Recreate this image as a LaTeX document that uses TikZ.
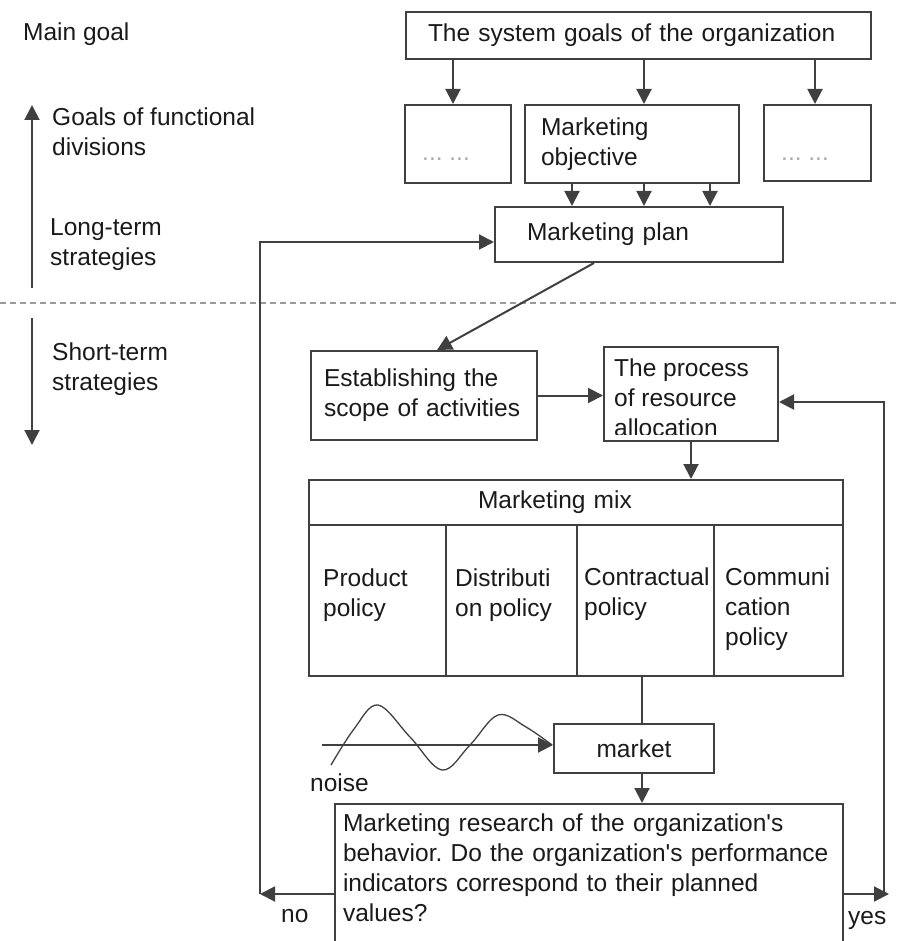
\documentclass[tikz,border=0pt]{standalone}
\usepackage{fontspec}
\setmainfont{Liberation Sans}
\usetikzlibrary{arrows.meta}

\definecolor{inkc}{HTML}{1A1A1A}
\definecolor{linec}{HTML}{404040}
\definecolor{dashc}{HTML}{9A9A9A}
\definecolor{dotc}{HTML}{AAAAAA}

\begin{document}
\frenchspacing
\begin{tikzpicture}[x=1pt, y=-1pt,
  font=\fontsize{24.5}{30}\selectfont, text=inkc,
  box/.style={draw=linec, line width=2pt, align=left, inner sep=0pt},
  arr/.style={draw=linec, line width=2pt, -{Triangle[length=15pt,width=15pt]}},
  link/.style={draw=linec, line width=2pt},
  txt/.style={inner sep=0pt, anchor=north west, align=left},
  lbl/.style={inner sep=0pt, anchor=base west},
  dotlbl/.style={lbl, text=dotc},
  wave/.style={draw=linec, line width=1.3pt}]
\useasboundingbox (0,0) rectangle (896,941);
\clip (0,0) rectangle (896,941);

% levels on the left
\node[lbl] (maingoal) at (23,41) {Main goal};
\node[txt] (goalsdiv) at (52,108) {Goals of functional\\divisions};
\node[txt] (longterm) at (50,218) {Long-term\\strategies};
\node[txt] (shortterm) at (52,343) {Short-term\\strategies};
\coordinate (upfoot) at (32,288);
\coordinate (uptip) at (32,105);
\coordinate (downtop) at (32,318);
\coordinate (downtip) at (32,445);
\draw[arr] (upfoot) -- (uptip);
\draw[arr] (downtop) -- (downtip);
\coordinate (dashl) at (0,303);
\coordinate (dashr) at (896,303);
\draw[draw=dashc, line width=1.8pt, dash pattern=on 6pt off 4pt] (dashl) -- (dashr);

% goals
\node[box, minimum width=465pt, minimum height=47pt, text width=421pt] (sysgoal) at (638.5,35.5) {The system goals of the organization};
\node[box, minimum width=106pt, minimum height=78pt] (divleft) at (458,144) {};
\node[box, minimum width=214pt, minimum height=78pt, text width=182pt] (objective) at (632,144) {Marketing\\objective};
\node[box, minimum width=107pt, minimum height=76pt] (divright) at (817.5,143) {};
\node[dotlbl] (dotsleft) at (422,161) {... ...};
\node[dotlbl] (dotsright) at (781,161) {... ...};
\node[box, minimum width=288pt, minimum height=55pt, text width=224pt] (plan) at (639,234.5) {Marketing plan};

\draw[arr] ([xshift=-5pt]divleft.north |- sysgoal.south) -- ([xshift=-5pt]divleft.north);
\draw[arr] ([xshift=12pt]objective.north |- sysgoal.south) -- ([xshift=12pt]objective.north);
\draw[arr] ([xshift=-2.5pt]divright.north |- sysgoal.south) -- ([xshift=-2.5pt]divright.north);
\foreach \dx in {-60,12,78}
  \draw[arr] ([xshift=\dx pt]objective.south) -- ([xshift=\dx pt]objective.south |- plan.north);

% short-term part
\node[box, minimum width=226pt, minimum height=89pt, text width=200pt] (establish) at (424,395.5) {Establishing the\\scope of activities};
\node[box, minimum width=174pt, minimum height=94pt] (alloc) at (691,394) {};
\begin{scope}
\clip ([yshift=8pt]alloc.south west) rectangle (alloc.north east);
\node[txt] (alloctext) at (614,359) {The process\\of resource\\allocation};
\end{scope}
\draw[arr] ([xshift=-45pt]plan.south) -- ([xshift=13pt]establish.north);
\draw[arr] (establish.east) -- (establish.east -| alloc.west);

% marketing mix
\node[box, minimum width=534pt, minimum height=45pt, text width=196pt] (mixhead) at (576,502.5) {Marketing mix};
\node[box, minimum width=137pt, minimum height=151pt] (product) at (377.5,600.5) {};
\node[box, minimum width=131pt, minimum height=151pt] (distrib) at (511.5,600.5) {};
\node[box, minimum width=137pt, minimum height=151pt] (contract) at (645.5,600.5) {};
\node[box, minimum width=129pt, minimum height=151pt] (commun) at (778.5,600.5) {};
\node[txt] (producttext) at (323,569) {Product\\policy};
\node[txt] (distribtext) at (455,569) {Distributi\\on policy};
\node[txt] (contracttext) at (584,568) {Contractual\\policy};
\node[txt] (communtext) at (725,568) {Communi\\cation\\policy};
\draw[arr] (alloc.south) -- (alloc.south |- mixhead.north);

% market and research
\node[box, minimum width=160pt, minimum height=49pt] (market) at (634,748.5) {market};
\node[box, anchor=north west, minimum width=508pt, text width=492pt, inner xsep=8pt, inner ysep=10pt] (research) at (334,803)
  {Marketing research of the organization\textquotesingle s\\behavior. Do the organization\textquotesingle s performance\\indicators correspond to their planned\\values?\rule[-90pt]{0pt}{90pt}};
\draw[link] ([xshift=8pt]market.north |- contract.south) -- ([xshift=8pt]market.north);
\draw[arr] ([xshift=8pt]market.south) -- ([xshift=8pt]market.south |- research.north);

% noise
\coordinate (noisestart) at (322,745);
\draw[arr] (noisestart) -- (noisestart -| market.west);
\draw[wave] plot[smooth, tension=0.6] coordinates {(331,765) (354,729) (378,705) (410,737) (442,770) (470,745) (498,715) (526,727) (552,745)};
\node[lbl] (noise) at (310,791) {noise};

% feedback
\coordinate (nocorner) at (260,894);
\coordinate (yescorner) at (884,894);
\coordinate (yestip) at (889,894);
\draw[arr] ([yshift=-91pt]research.north west) -- (nocorner);
\draw[arr] (nocorner) |- ([yshift=-7.5pt]plan.west);
\draw[arr] ([yshift=-91pt]research.north east) -- (yestip);
\draw[arr] (yescorner) |- ([yshift=-8pt]alloc.east);
\node[lbl] (no) at (281,922) {no};
\node[lbl] (yes) at (848,924) {yes};
\end{tikzpicture}
\end{document}
